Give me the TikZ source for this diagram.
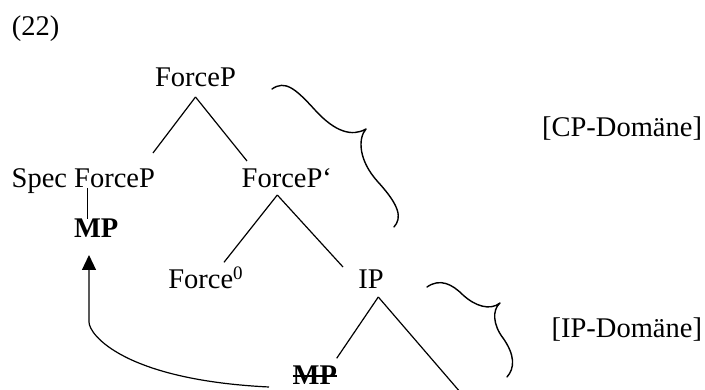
\documentclass[tikz,border=0pt]{standalone}
\usepackage{fontspec}
\setmainfont{Liberation Serif}
\usetikzlibrary{arrows.meta}
\begin{document}
\begin{tikzpicture}[x=1pt,y=-1pt,
  lbl/.style={inner sep=0pt,outer sep=0pt,font=\fontsize{28.5}{34}\selectfont},
  branch/.style={line width=1.2pt},
  brace/.style={line width=1.4pt,line cap=round,line join=round},
  move/.style={line width=1.2pt,-{Triangle[length=15pt,width=14pt]}}]
\useasboundingbox (0,0) rectangle (705,390);

% example number
\node[lbl,anchor=base west] (num) at (12,36) {(22)};

% tree labels
\node[lbl,anchor=base] (forcep) at (195.5,87) {ForceP};
\node[lbl,anchor=base west] (spec) at (11.7,188) {Spec ForceP};
\node[lbl,anchor=base west] (fpbar) at (241.7,188) {ForceP‘};
\node[lbl,anchor=base west,font=\fontsize{28.5}{34}\selectfont\bfseries] (mp) at (74,237.3) {MP};
\node[lbl,anchor=base west] (force0) at (168.3,288.3) {Force\raisebox{9pt}{\fontsize{19}{19}\selectfont 0}};
\node[lbl,anchor=base] (ip) at (371,289) {IP};
\node[lbl,anchor=base west,font=\fontsize{28.5}{34}\selectfont\bfseries] (mpt) at (292.7,384.5) {MP};
\coordinate (vp) at (467,400);

% domain labels
\node[lbl,anchor=base east] (cpdom) at (702,137) {[CP-Domäne]};
\node[lbl,anchor=base east] (ipdom) at (702,338) {[IP-Domäne]};

% branches
\draw[branch] ([yshift=-10pt]forcep.base) -- ([xshift=-2pt,yshift=35pt]spec.base east);
\draw[branch] ([yshift=-10pt]forcep.base) -- ([xshift=5.3pt,yshift=27pt]fpbar.base west);
\draw[branch] ([xshift=76pt]spec.base west) -- ([xshift=13.7pt,yshift=18.5pt]mp.base west);
\draw[branch] ([xshift=35.6pt,yshift=-7pt]fpbar.base west) -- ([xshift=55.7pt,yshift=26pt]force0.base west);
\draw[branch] ([xshift=35.6pt,yshift=-7pt]fpbar.base west) -- ([xshift=-28pt,yshift=22pt]ip.base);
\draw[branch] ([xshift=7.3pt,yshift=-8pt]ip.base) -- ([xshift=44pt,yshift=26.2pt]mpt.base west);
\draw[branch] ([xshift=7.3pt,yshift=-8pt]ip.base) -- (vp);

% trace struck through
\draw[line width=2pt] ([yshift=8pt]mpt.base west) -- ([yshift=8pt]mpt.base east);

% movement arrow
\draw[move] ([xshift=-23.7pt,yshift=-2.5pt]mpt.base west)
  .. controls (125,380) and (89,335) .. (89,322)
  -- ([xshift=15pt,yshift=-17.7pt]mp.base west);

% braces
\draw[brace] (272,89) .. controls (285,80) and (295,88) .. (315,110)
  .. controls (335,132) and (352,137) .. (366,129)
  .. controls (358,138) and (358,160) .. (378,182)
  .. controls (400,206) and (402,218) .. (394,227);
\draw[brace] (427,287) .. controls (440,278) and (452,284) .. (463,295)
  .. controls (475,306) and (490,311) .. (500,303)
  .. controls (492,310) and (493,325) .. (503,338)
  .. controls (515,355) and (515,368) .. (507,377);
\end{tikzpicture}
\end{document}
